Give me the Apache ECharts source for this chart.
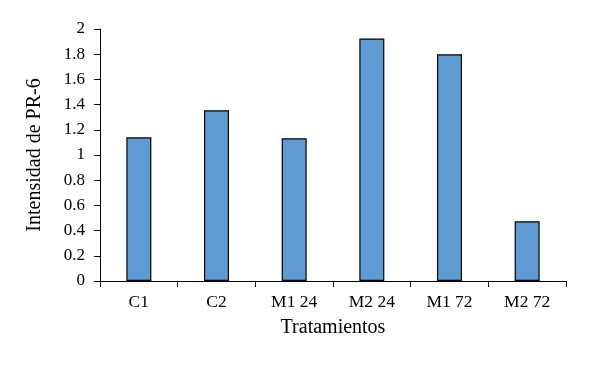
<!DOCTYPE html>
<html><head><meta charset="utf-8">
<script src="https://cdn.jsdelivr.net/npm/echarts@6/dist/echarts.min.js"></script>
<style>html,body{margin:0;padding:0;background:#fff}#c{width:602px;height:369px}</style>
</head><body><div id="c"></div>
<script>
const categories = ["C1", "C2", "M1 24", "M2 24", "M1 72", "M2 72"];
const values = [1.14, 1.355, 1.133, 1.925, 1.80, 0.474];
const yTitle = "Intensidad de PR-6";
const xTitle = "Tratamientos";
const font = "Liberation Serif";
const chart = echarts.init(document.getElementById('c'), null, {renderer: 'canvas'});
chart.setOption({
  animation: false,
  backgroundColor: '#fff',
  grid: {left: 100, right: 36, top: 29, bottom: 88, containLabel: false},
  xAxis: {
    type: 'category', data: categories,
    name: xTitle, nameLocation: 'middle', nameGap: 37,
    nameTextStyle: {fontFamily: font, fontSize: 20, color: '#000'},
    axisLine: {lineStyle: {color: '#000', width: 1}},
    axisTick: {show: true, alignWithLabel: false, length: 6, lineStyle: {color: '#000'}},
    axisLabel: {fontFamily: font, fontSize: 17.5, color: '#000', margin: 12},
    splitLine: {show: false}
  },
  yAxis: {
    type: 'value', min: 0, max: 2, interval: 0.2,
    name: yTitle, nameLocation: 'middle', nameGap: 55,
    nameTextStyle: {fontFamily: font, fontSize: 20, color: '#000'},
    axisLine: {show: true, lineStyle: {color: '#000', width: 1}},
    axisTick: {show: true, length: 6, lineStyle: {color: '#000'}},
    axisLabel: {fontFamily: font, fontSize: 17, color: '#000', margin: 15,
      formatter: v => String(Math.round(v * 10) / 10)},
    splitLine: {show: false}
  },
  series: [{
    type: 'bar', data: values, barWidth: 25,
    itemStyle: {color: '#5f9bd3', borderColor: '#000', borderWidth: 1.2}
  }]
});
</script></body></html>
